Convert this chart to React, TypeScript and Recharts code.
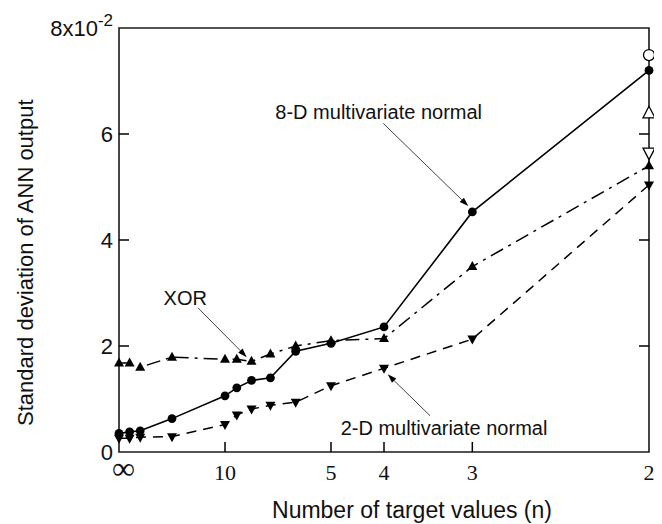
import React from 'react';
import {
  ComposedChart,
  Line,
  Scatter,
  XAxis,
  YAxis,
  ReferenceArea,
  ReferenceLine,
  ReferenceDot,
} from 'recharts';

// ---------- data ----------
// number of target values n for every measured point (x axis is 1/n)
const nPoints = [Infinity, 100, 50, 20, 10, 9, 8, 7, 6, 5, 4, 3, 2];
const sd8D = [0.35, 0.38, 0.4, 0.63, 1.06, 1.21, 1.35, 1.4, 1.9, 2.05, 2.36, 4.53, 7.2];
const sdXOR = [1.68, 1.68, 1.6, 1.79, 1.75, 1.75, 1.71, 1.85, 2.0, 2.1, 2.14, 3.5, 5.4];
const sd2D = [0.26, 0.26, 0.28, 0.29, 0.52, 0.7, 0.81, 0.88, 0.94, 1.25, 1.58, 2.13, 5.04];

// open (reference) markers at n = 2
const openN = 2;
const openCircleValue = 7.49;
const openUpValue = 6.4;
const openDownValue = 5.64;

// ticks
const xTickN = [Infinity, 10, 5, 4, 3, 2];
const xTickLabels = ['\u221E', '10', '5', '4', '3', '2'];
const yTicks = [0, 2, 4, 6, 8];
const yTickLabels = ['0', '2', '4', '6', '8x10'];

// annotations
const annText = ['8-D multivariate normal', 'XOR', '2-D multivariate normal'];
const annTextX = [0.245, 0.0625, 0.3066];
const annTextY = [6.42, 2.915, 0.453];
const annFrom = [
  [0.2493, 6.2],
  [0.0745, 2.72],
  [0.2934, 0.685],
];
const annTo = [
  [0.3295, 4.64],
  [0.1205, 1.79],
  [0.2535, 1.466],
];

const inv = (n: number) => 1 / n;
const toSeries = (vals: number[]) => nPoints.map((n, i) => ({ x: inv(n), y: vals[i] }));
const data8D = toSeries(sd8D);
const dataXOR = toSeries(sdXOR);
const data2D = toSeries(sd2D);
const xTicks = xTickN.map(inv);

// ---------- layout ----------
const W = 654;
const H = 516;
const PLOT_W = 530;
const SANS = '"Liberation Sans", Arial, sans-serif';
const SERIF = '"Liberation Serif", "Times New Roman", serif';
const INK = '#111';

// ---------- markers ----------
const FilledCircle = (p: any) =>
  p.cx == null ? null : <circle key={`c${p.index}`} cx={p.cx} cy={p.cy} r={4.4} fill="#000" />;
const FilledUp = (p: any) =>
  p.cx == null ? null : (
    <polygon
      key={`u${p.index}`}
      points={`${p.cx},${p.cy - 5.5} ${p.cx - 5},${p.cy + 3.5} ${p.cx + 5},${p.cy + 3.5}`}
      fill="#000"
    />
  );
const FilledDown = (p: any) =>
  p.cx == null ? null : (
    <polygon
      key={`d${p.index}`}
      points={`${p.cx},${p.cy + 5.5} ${p.cx - 5},${p.cy - 3.5} ${p.cx + 5},${p.cy - 3.5}`}
      fill="#000"
    />
  );
const OpenCircle = (p: any) => (
  <circle cx={p.cx} cy={p.cy} r={5.5} fill="#fff" stroke="#000" strokeWidth={1.3} />
);
const OpenUp = (p: any) => (
  <polygon
    points={`${p.cx},${p.cy - 6.5} ${p.cx - 6},${p.cy + 5} ${p.cx + 6},${p.cy + 5}`}
    fill="#fff"
    stroke="#000"
    strokeWidth={1.3}
  />
);
const OpenDown = (p: any) => (
  <polygon
    points={`${p.cx},${p.cy + 6.5} ${p.cx - 6},${p.cy - 5} ${p.cx + 6},${p.cy - 5}`}
    fill="#fff"
    stroke="#000"
    strokeWidth={1.3}
  />
);

// ---------- ticks ----------
const XTick = (p: any) => {
  const { x, y, payload } = p;
  const idx = xTicks.findIndex((t) => Math.abs(t - payload.value) < 1e-9);
  const inner = idx > 0 && idx < xTicks.length - 1;
  const isInf = idx === 0;
  return (
    <g>
      {inner && <line x1={x} x2={x} y1={y} y2={y - 10} stroke="#000" strokeWidth={1.5} />}
      <text
        x={x + (isInf ? 4.5 : 0)}
        y={y + (isInf ? 27 : 28)}
        textAnchor="middle"
        fontFamily={SERIF}
        fontSize={isInf ? 32 : 22}
        fill={INK}
      >
        {xTickLabels[idx]}
      </text>
    </g>
  );
};

const YTick = (p: any) => {
  const { x, y, payload } = p;
  const idx = yTicks.indexOf(payload.value);
  const axisX = x + 7;
  const inner = idx > 0 && idx < yTicks.length - 1;
  return (
    <g>
      {inner && <line x1={axisX} x2={axisX + 10} y1={y} y2={y} stroke="#000" strokeWidth={1.5} />}
      {inner && (
        <line
          x1={axisX + PLOT_W - 10}
          x2={axisX + PLOT_W}
          y1={y}
          y2={y}
          stroke="#000"
          strokeWidth={1.5}
        />
      )}
      <text x={x + 1} y={y + 8} textAnchor="end" fontFamily={SANS} fontSize={22} fill={INK}>
        {yTickLabels[idx]}
        {idx === yTicks.length - 1 && (
          <tspan dy={-10} fontSize={17}>
            -2
          </tspan>
        )}
      </text>
    </g>
  );
};

// ---------- annotations ----------
const Arrow = (p: any) => {
  const { x1, y1, x2, y2 } = p;
  const dx = x2 - x1;
  const dy = y2 - y1;
  const len = Math.hypot(dx, dy) || 1;
  const ux = dx / len;
  const uy = dy / len;
  const hl = 9;
  const hw = 3;
  const bx = x2 - ux * hl;
  const by = y2 - uy * hl;
  return (
    <g>
      <line x1={x1} y1={y1} x2={bx} y2={by} stroke="#444" strokeWidth={1} />
      <polygon
        points={`${x2},${y2} ${bx - uy * hw},${by + ux * hw} ${bx + uy * hw},${by - ux * hw}`}
        fill="#000"
      />
    </g>
  );
};

const makeLabel = (text: string) => (p: any) => (
  <text
    x={p.cx}
    y={p.cy}
    textAnchor="middle"
    dominantBaseline="central"
    fontFamily={SANS}
    fontSize={20}
    fill={INK}
  >
    {text}
  </text>
);

export default function App() {
  return (
    <div style={{ width: W, height: H }}>
      <ComposedChart width={W} height={H} margin={{ top: 20, right: 13, bottom: 0, left: 0 }}>
        <XAxis
          xAxisId={0}
          type="number"
          dataKey="x"
          domain={[0, 0.5]}
          ticks={xTicks}
          interval={0}
          tick={<XTick />}
          tickLine={false}
          axisLine={false}
          tickSize={0}
          tickMargin={0}
          height={72}
        />
        <YAxis
          yAxisId={0}
          type="number"
          domain={[0, 8]}
          ticks={yTicks}
          interval={0}
          tick={<YTick />}
          tickLine={false}
          axisLine={false}
          tickSize={0}
          tickMargin={7}
          width={111}
        />
        <ReferenceArea
          x1={0}
          x2={0.5}
          y1={0}
          y2={8}
          fill="none"
          fillOpacity={0}
          stroke="#1a1a1a"
          strokeWidth={1.6}
          ifOverflow="visible"
        />

        <Line
          data={data8D}
          dataKey="y"
          stroke="#000"
          strokeWidth={1.6}
          dot={FilledCircle}
          activeDot={false}
          isAnimationActive={false}
        />
        <Line
          data={dataXOR}
          dataKey="y"
          stroke="#000"
          strokeWidth={1.5}
          strokeDasharray="14 6 3 6"
          dot={FilledUp}
          activeDot={false}
          isAnimationActive={false}
        />
        <Line
          data={data2D}
          dataKey="y"
          stroke="#000"
          strokeWidth={1.5}
          strokeDasharray="10 7"
          dot={FilledDown}
          activeDot={false}
          isAnimationActive={false}
        />
        <Scatter
          data={[{ x: inv(openN), y: openCircleValue }]}
          dataKey="y"
          shape={OpenCircle}
          isAnimationActive={false}
        />
        <Scatter
          data={[{ x: inv(openN), y: openUpValue }]}
          dataKey="y"
          shape={OpenUp}
          isAnimationActive={false}
        />
        <Scatter
          data={[{ x: inv(openN), y: openDownValue }]}
          dataKey="y"
          shape={OpenDown}
          isAnimationActive={false}
        />

        {annText.map((t, i) => (
          <ReferenceLine
            key={`a${i}`}
            segment={[
              { x: annFrom[i][0], y: annFrom[i][1] },
              { x: annTo[i][0], y: annTo[i][1] },
            ]}
            shape={Arrow}
            ifOverflow="visible"
          />
        ))}
        {annText.map((t, i) => (
          <ReferenceDot
            key={`t${i}`}
            x={annTextX[i]}
            y={annTextY[i]}
            r={0}
            shape={makeLabel(t)}
            ifOverflow="visible"
          />
        ))}

        <text
          x={25}
          y={418}
          transform="rotate(-90 25 418)"
          textAnchor="start"
          fontFamily={SANS}
          fontSize={22}
          fill={INK}
        >
          Standard deviation of ANN output
        </text>
        <text x={404} y={510} textAnchor="middle" fontFamily={SANS} fontSize={23} fill={INK}>
          Number of target values (n)
        </text>
      </ComposedChart>
    </div>
  );
}
